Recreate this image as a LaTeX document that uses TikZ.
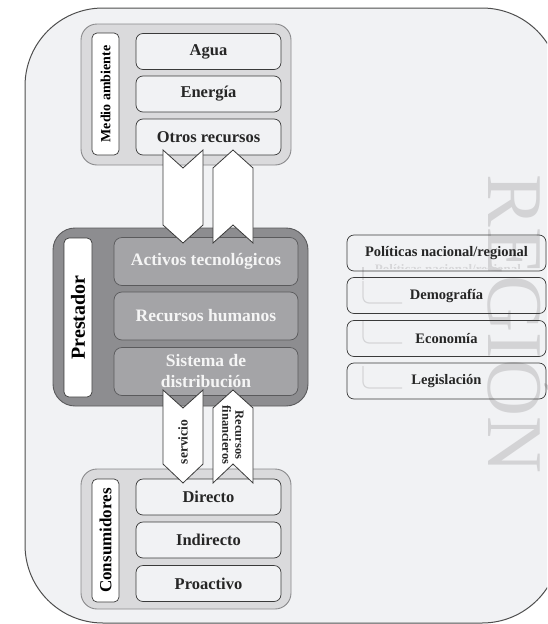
\documentclass[tikz,border=0pt]{standalone}
\usepackage{fontspec}
\setmainfont{Liberation Serif}
\definecolor{bg}{HTML}{F1F2F4}
\definecolor{grp}{HTML}{DADADC}
\definecolor{grpline}{HTML}{8A8A8C}
\definecolor{pgrp}{HTML}{8D8D90}
\definecolor{pline}{HTML}{5A5A5C}
\definecolor{pitem}{HTML}{A4A4A7}
\definecolor{dark}{HTML}{3A3A3A}
\definecolor{regc}{HTML}{D3D3D5}
\definecolor{ghost}{HTML}{D6D6D8}
\begin{document}
\begin{tikzpicture}[x=1pt,y=-1pt,
  grpbox/.style={draw=grpline, fill=grp, rounded corners=16pt, line width=0.9pt, inner sep=0pt},
  pgrpbox/.style={draw=pline, fill=pgrp, rounded corners=22pt, line width=0.9pt, inner sep=0pt},
  item/.style={draw=dark, fill=bg, rounded corners=7pt, line width=0.7pt, minimum width=145pt, minimum height=36pt, inner sep=0pt, font=\bfseries\fontsize{16.5}{19}\selectfont, text=black!85},
  pitembox/.style={draw=pline, fill=pitem, rounded corners=8pt, line width=0.7pt, minimum width=184pt, minimum height=48pt, inner sep=0pt, align=center, font=\bfseries\fontsize{17.5}{21}\selectfont, text=white!96!black},
  rbox/.style={draw=dark, rounded corners=7pt, line width=0.7pt, minimum width=199pt, minimum height=36pt, inner sep=0pt, font=\bfseries\fontsize{14.5}{17}\selectfont, text=black!85},
  lbl/.style={draw=dark, fill=white, rounded corners=5pt, line width=0.7pt, inner sep=0pt, rotate=90},
  arrowshape/.style={draw=dark, fill=white, line width=0.8pt, line join=miter},
  arrowtext/.style={font=\bfseries\fontsize{13.5}{13}\selectfont, text=black!85, inner sep=0pt}]
\useasboundingbox (0,0) rectangle (547,624);
\begin{scope}
\clip (0,0) rectangle (547,624);
% outer region
\draw[fill=bg, draw=dark!90, line width=1pt, rounded corners=78pt] (25,8) rectangle (560,623);
% REGION watermark
\node[rotate=-90, anchor=base, text=regc, font=\fontsize{79}{79}\selectfont, inner sep=0pt] (region) at (488,324) {REGIÓN};
% ghost lines
\draw[ghost, line width=1.2pt] (363,267) -- (363,280);
\foreach \yy in {303,343,388}{
  \draw[ghost, line width=1.2pt, rounded corners=6pt] (363,\yy-22) |- (402,\yy);
}
\begin{scope}
\clip (350,262) rectangle (544,268);
\node[anchor=base, text=ghost, font=\bfseries\fontsize{13}{15}\selectfont, inner sep=0pt] (ghosttxt) at (448,273) {Políticas nacional/regional};
\end{scope}
% right boxes
\node[rbox] (pol) at (446.5,253) {Políticas nacional/regional};
\node[rbox] (dem) at (446.5,295.5) {Demografía};
\node[rbox] (eco) at (446.5,338.5) {Economía};
\node[rbox] (leg) at (446.5,381) {Legislación};
% Medio ambiente
\node[grpbox, minimum width=210pt, minimum height=141pt] (medio) at (186,94.5) {};
\node[lbl, minimum width=122pt, minimum height=27pt, font=\bfseries\fontsize{14}{16}\selectfont] (medlbl) at (105.5,94) {Medio ambiente};
\node[item] (agua) at (208.5,51.5) {Agua};
\node[item] (ener) at (208.5,94) {Energía};
\node[item] (otros) at (208.5,137) {Otros recursos};
% Prestador
\node[pgrpbox, minimum width=255pt, minimum height=178pt] (prest) at (180.5,317) {};
\node[lbl, minimum width=159pt, minimum height=28pt, font=\bfseries\fontsize{20}{22}\selectfont] (prlbl) at (78,317.5) {Prestador};
\node[pitembox] (activos) at (206,261.5) {Activos tecnológicos};
\node[pitembox] (rrhh) at (206,316) {Recursos humanos};
\node[pitembox] (sist) at (206,371.5) {Sistema de\\distribución};
% Consumidores
\node[grpbox, minimum width=210pt, minimum height=140pt] (cons) at (186,539) {};
\node[lbl, minimum width=123pt, minimum height=27pt, font=\bfseries\fontsize{17}{19}\selectfont] (conslbl) at (105.5,540.5) {Consumidores};
\node[item] (dir) at (208.5,497) {Directo};
\node[item] (ind) at (208.5,540) {Indirecto};
\node[item] (pro) at (208.5,583.5) {Proactivo};
% arrows between Medio ambiente and Prestador
\draw[arrowshape] (163,150) -- (183,168) -- (203,150) -- (203,225) -- (183,243) -- (163,225) -- cycle;
\draw[arrowshape] (213,168) -- (233,150) -- (253,168) -- (253,243) -- (233,225) -- (213,243) -- cycle;
% arrows between Prestador and Consumidores
\draw[arrowshape] (163,390) -- (183,408) -- (203,390) -- (203,464) -- (183,483) -- (163,464) -- cycle;
\draw[arrowshape] (213,408) -- (233,390) -- (253,408) -- (253,483) -- (233,464) -- (213,483) -- cycle;
\node[arrowtext, rotate=90] (serv) at (183,442) {servicio};
\node[arrowtext, rotate=-90, align=center, font=\bfseries\fontsize{12.5}{13}\selectfont] (recfin) at (233,435) {Recursos\\financieros};
\end{scope}
\end{tikzpicture}
\end{document}
